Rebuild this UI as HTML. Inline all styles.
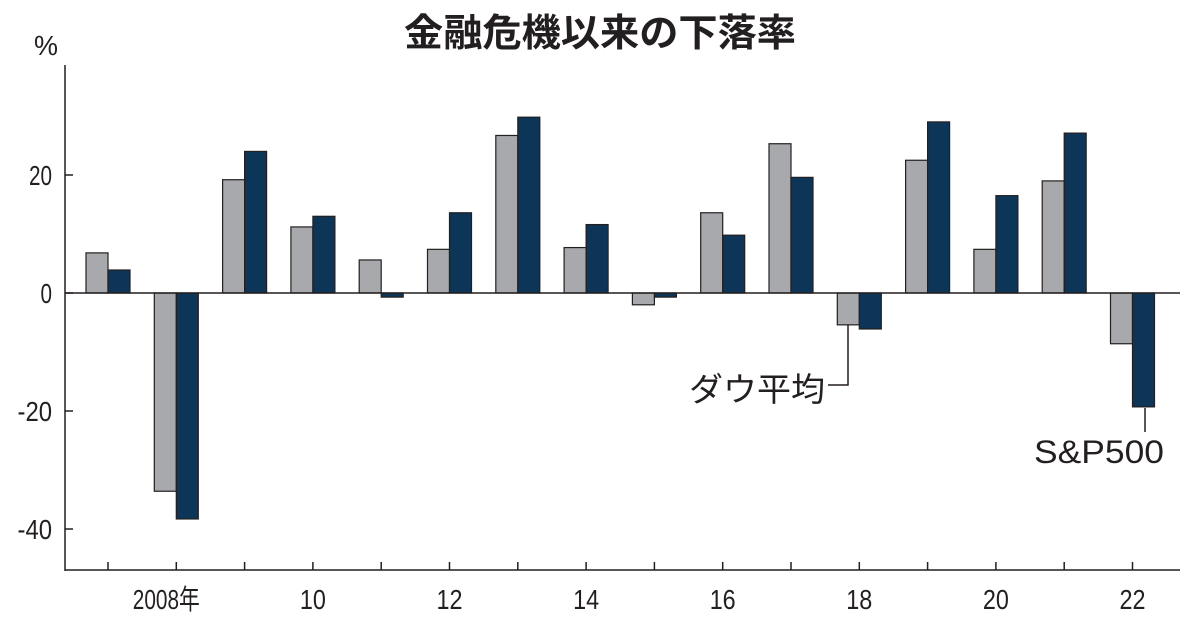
<!DOCTYPE html>
<html><head><meta charset="utf-8"><style>
body{margin:0;background:#fff;}
svg text{font-family:"Liberation Sans","Noto Sans CJK JP",sans-serif;fill:#231f20;}
</style></head><body>
<svg id="chart" width="1200" height="630" xmlns="http://www.w3.org/2000/svg">
<text x="600" y="46" font-size="38" font-weight="bold" text-anchor="middle" textLength="392" lengthAdjust="spacingAndGlyphs">金融危機以来の下落率</text>
<text x="34" y="55" font-size="28" textLength="24" lengthAdjust="spacingAndGlyphs">%</text>
<g id="bars"></g>
<g id="axes"></g>
<text x="689" y="401" font-size="33" textLength="136" lengthAdjust="spacingAndGlyphs">ダウ平均</text>
<path d="M828,385 H848 V325" stroke="#231f20" stroke-width="1.5" fill="none"/>
<text x="1034" y="463" font-size="32" textLength="130" lengthAdjust="spacingAndGlyphs">S&amp;P500</text>
<path d="M1145,408 V432" stroke="#231f20" stroke-width="1.5" fill="none"/>
</svg>
<script>
const years=[2007,2008,2009,2010,2011,2012,2013,2014,2015,2016,2017,2018,2019,2020,2021,2022];
const dowValues=[6.8,-33.6,19.2,11.2,5.6,7.4,26.7,7.7,-2.0,13.6,25.3,-5.4,22.5,7.4,19.0,-8.6];
const spValues=[3.9,-38.3,24.0,13.0,-0.7,13.6,29.8,11.6,-0.7,9.8,19.6,-6.1,29.0,16.5,27.1,-19.3];
const yTicks=[-40,-20,0,20];
const xLabelYears=[2008,2010,2012,2014,2016,2018,2020,2022];
const xLabels=["2008年","10","12","14","16","18","20","22"];
const NS="http://www.w3.org/2000/svg";
const y=v=>293-v*5.9;
const x=yr=>108+(yr-2007)*68.3;
const bars=document.getElementById('bars'),axes=document.getElementById('axes');
function mk(tag,attrs,parent){const e=document.createElementNS(NS,tag);for(const k in attrs)e.setAttribute(k,attrs[k]);parent.appendChild(e);return e;}
years.forEach((yr,i)=>{
  const c=x(yr);
  const g=mk('rect',{x:c-22,y:Math.min(y(0),y(dowValues[i])),width:22,height:Math.abs(y(dowValues[i])-y(0)),fill:'#a7a9ac',stroke:'#231f20','stroke-width':1.2},bars);
  
  
  const b=mk('rect',{x:c,y:Math.min(y(0),y(spValues[i])),width:22,height:Math.abs(y(spValues[i])-y(0)),fill:'#0d3557',stroke:'#231f20','stroke-width':1.2},bars);
  
  
  const t=mk('line',{x1:c,x2:c,y1:570,y2:562,stroke:'#231f20','stroke-width':1.5},axes);
  
  
});
const ya=mk('line',{x1:65,x2:65,y1:65,y2:571,stroke:'#231f20','stroke-width':1.5},axes);


const xa=mk('line',{x1:65,x2:1180,y1:570,y2:570,stroke:'#231f20','stroke-width':1.5},axes);


const zl=mk('line',{x1:65,x2:1180,y1:y(0),y2:y(0),stroke:'#231f20','stroke-width':1.5},axes);


yTicks.forEach(v=>{
  const t=mk('line',{x1:65,x2:73,y1:y(v),y2:y(v),stroke:'#231f20','stroke-width':1.5},axes);
  
  
  const s=String(v);
  const l=mk('text',{x:52,y:y(v)+10,'font-size':28,'text-anchor':'end',textLength:s.length*11.5,lengthAdjust:'spacingAndGlyphs'},axes);
  l.textContent=s;
  
  
});
xLabelYears.forEach((yr,i)=>{
  const s=xLabels[i];
  const w=i==0?67:26;
  const l=mk('text',{x:x(yr)+(i==0?-10:0),y:609,'font-size':28,'text-anchor':'middle',textLength:w,lengthAdjust:'spacingAndGlyphs'},axes);
  l.textContent=s;
  
  
});
</script>
</body></html>
